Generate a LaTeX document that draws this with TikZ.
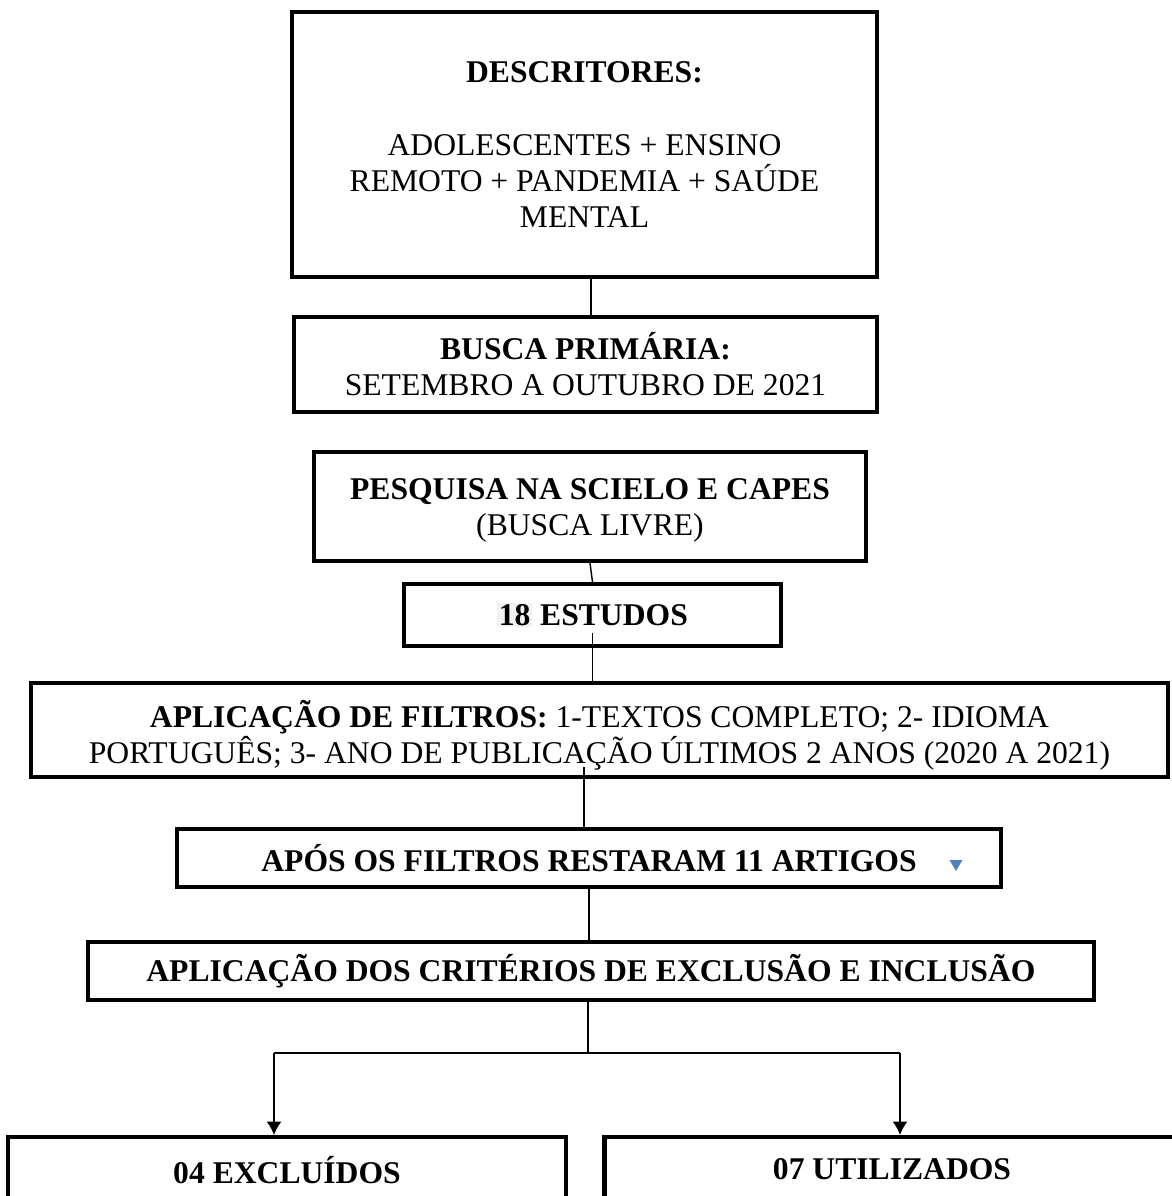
\documentclass[tikz,border=0pt]{standalone}
\usepackage{fontspec}
\setmainfont{Liberation Serif}
\usetikzlibrary{arrows.meta}

\definecolor{markblue}{RGB}{79,129,189}
\definecolor{markgray}{RGB}{242,242,242}

\tikzset{>={Latex[length=2.7mm,width=3mm]}}
\tikzset{box/.style={draw, line width=2.4pt, align=center, inner sep=0pt, font=\fontsize{18}{20.5}\selectfont}}
\tikzset{link/.style={line width=0.8pt}}

\begin{document}
\begin{tikzpicture}[x=0.02cm, y=-0.02cm]

\useasboundingbox (0,0) rectangle (1172,1196);
\clip (0,0) rectangle (1172,1196);

\node[box, minimum width=11.7cm, minimum height=5.3cm] (desc) at (584.5,144.5)
  {\textbf{DESCRITORES:}\\[0.73cm]ADOLESCENTES + ENSINO\\REMOTO + PANDEMIA + SAÚDE\\MENTAL};
\node[box, minimum width=11.66cm, minimum height=1.9cm] (busca) at (585.5,364.5)
  {\textbf{BUSCA PRIMÁRIA:}\\SETEMBRO A OUTUBRO DE 2021};
\node[box, minimum width=11.04cm, minimum height=2.18cm] (pesq) at (590,506.5)
  {\rule{0pt}{16.5pt}\textbf{PESQUISA NA SCIELO E CAPES}\\(BUSCA LIVRE)};
\node[box, minimum width=7.54cm, minimum height=1.24cm] (estudos) at (592.5,615)
  {\textbf{{\setlength\fboxsep{1pt}\colorbox{markgray}{18}} ESTUDOS}};
\node[box, minimum width=22.74cm, minimum height=1.88cm] (filtros) at (599.5,730)
  {\rule{0pt}{21pt}\textbf{APLICAÇÃO DE FILTROS:} 1-TEXTOS COMPLETO; 2- IDIOMA\\PORTUGUÊS; 3- ANO DE PUBLICAÇÃO ÚLTIMOS 2 ANOS (2020 A 2021)};
\node[box, minimum width=16.48cm, minimum height=1.16cm] (apos) at (589,858)
  {\textbf{APÓS OS FILTROS RESTARAM 11 ARTIGOS}};
\node[box, minimum width=20.12cm, minimum height=1.16cm] (crit) at (591,971)
  {\textbf{APLICAÇÃO DOS CRITÉRIOS DE EXCLUSÃO E INCLUSÃO}};
\node[box, minimum width=11.16cm, minimum height=1.3cm, anchor=north] (excl) at (287,1135)
  {\textbf{04 EXCLUÍDOS}};
\node[box, minimum width=11.5cm, minimum height=1.3cm, anchor=north] (util) at (892,1135)
  {\textbf{07 UTILIZADOS}};

% little blue marker
\fill[markblue] (949.5,860) -- (962.5,860) -- (956,871) -- cycle;

\coordinate (spine) at (591,0);
\coordinate (split) at (588,1053);
\coordinate (left) at (274,1053);
\coordinate (right) at (900,1053);

\draw[link] (spine |- desc.south) -- (spine |- busca.north);
\draw[link] (pesq.south) -- (estudos.north);
\draw[link] ([yshift=0.3cm]estudos.south) -- (estudos.south |- filtros.north);
\draw[link] ([xshift=-0.1cm]apos.north) -- ++(0,-60);
\draw[link] (apos.south) -- (apos.south |- crit.north);
\draw[link] (split |- crit.south) -- (split);
\draw[link] (left) -- (right);
\draw[link,->] (left) -- (left |- excl.north);
\draw[link,->] (right) -- (right |- util.north);

\end{tikzpicture}
\end{document}
